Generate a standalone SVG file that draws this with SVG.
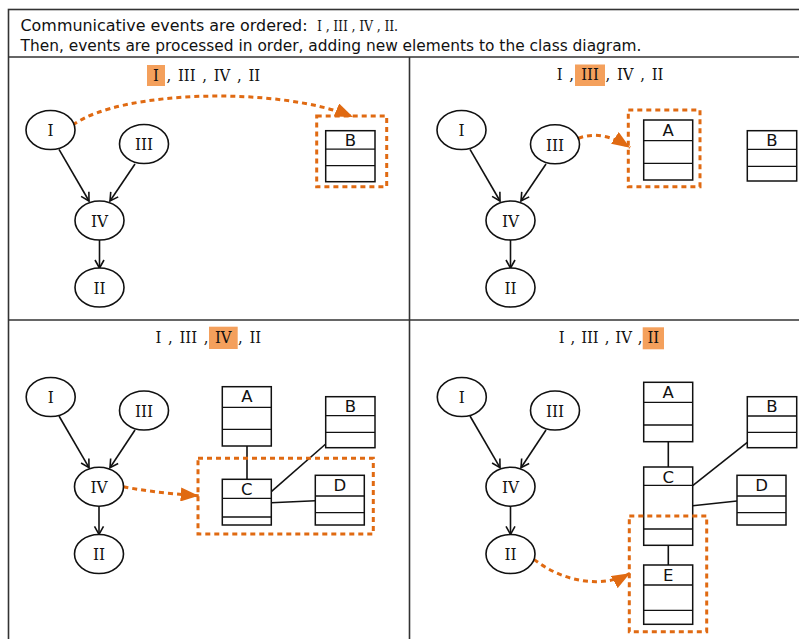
<svg xmlns="http://www.w3.org/2000/svg" width="799" height="639" viewBox="0 0 799 639">
<style>
.frame{fill:none;stroke:#333;stroke-width:1.6}
.ev{fill:#fff;stroke:#111;stroke-width:1.6}
.evt{font-family:"DejaVu Serif Condensed","DejaVu Serif",serif;font-size:17px;fill:#111;text-anchor:middle}
.cls{fill:#fff;stroke:#111;stroke-width:1.5}
.sep{stroke:#111;stroke-width:1.3}
.clt{font-family:"DejaVu Sans",sans-serif;font-size:16.5px;fill:#111;text-anchor:middle}
.edge{fill:none;stroke:#111;stroke-width:1.6;marker-end:url(#open)}
.assoc{fill:none;stroke:#111;stroke-width:1.6}
.flow{fill:none;stroke:#E06A12;stroke-width:3;stroke-dasharray:5 4;marker-end:url(#tri)}
.box{fill:none;stroke:#E06A12;stroke-width:3;stroke-dasharray:5 4}
.hl{fill:#F4A05C}
.title{font-family:"DejaVu Serif Condensed","DejaVu Serif",serif;font-size:16.5px;fill:#111;word-spacing:2px}
.head{font-family:"DejaVu Sans",sans-serif;font-size:15.5px;fill:#111}
.headn{font-family:"DejaVu Serif Condensed","DejaVu Serif",serif;font-size:14px;fill:#111}
.s{text-anchor:start}.m{text-anchor:middle;word-spacing:0}.e{text-anchor:end}
</style>
<defs>
<marker id="open" markerWidth="12" markerHeight="12" refX="9" refY="5" orient="auto" markerUnits="userSpaceOnUse" viewBox="0 0 12 10">
<path d="M1,0.5 L9,5 L1,9.5" fill="none" stroke="#111" stroke-width="1.6"/>
</marker>
<marker id="tri" markerWidth="20" markerHeight="14" refX="18" refY="7" orient="auto" markerUnits="userSpaceOnUse" viewBox="0 0 20 14">
<path d="M0,0 L18,7 L0,14 Z" fill="#E06A12"/>
</marker>
</defs>

<g id="frame">
<rect class="frame" x="8.5" y="9.5" width="800" height="640"/>
<line class="frame" x1="8" y1="57" x2="799" y2="57"/>
<line class="frame" x1="409.5" y1="57" x2="409.5" y2="639"/>
<line class="frame" x1="8" y1="320" x2="799" y2="320"/>
</g>

<g id="header">
<text class="head" x="20.5" y="30.5" textLength="287" lengthAdjust="spacingAndGlyphs">Communicative events are ordered:</text>
<text class="headn" x="317" y="30.5" textLength="81" lengthAdjust="spacing">I , III , IV , II.</text>
<text class="head" x="20.5" y="50.5" textLength="621" lengthAdjust="spacingAndGlyphs">Then, events are processed in order, adding new elements to the class diagram.</text>
</g>

<!-- Panel 1 -->
<g id="p1-title">
<rect class="hl" x="147" y="65" width="18" height="21"/>
<text class="title m" x="156" y="80.5">I</text>
<text class="title s" x="166.5" y="80.5">, III , IV , II</text>
</g>
<g id="p1-connectors">
<line class="edge" x1="59" y1="149.3" x2="89" y2="201"/>
<line class="edge" x1="135" y1="164" x2="110" y2="201"/>
<line class="edge" x1="99.5" y1="240" x2="99.5" y2="268"/>
<path class="flow" d="M73,125 C120,90 280,86 353,117"/>
</g>
<g id="p1-I"><ellipse class="ev" cx="50.5" cy="130" rx="24.5" ry="19.5"/><text class="evt" x="50.5" y="136">I</text></g>
<g id="p1-III"><ellipse class="ev" cx="144" cy="144" rx="24.5" ry="19.5"/><text class="evt" x="144" y="150.3">III</text></g>
<g id="p1-IV"><ellipse class="ev" cx="99.5" cy="220.5" rx="24.5" ry="19.5"/><text class="evt" x="99.5" y="226.8">IV</text></g>
<g id="p1-II"><ellipse class="ev" cx="99.5" cy="287.5" rx="24.5" ry="19.5"/><text class="evt" x="99.5" y="293.8">II</text></g>
<g id="p1-B">
<rect class="cls" x="325.7" y="130.7" width="49.3" height="51"/>
<line class="sep" x1="325.7" y1="149.2" x2="375" y2="149.2"/>
<line class="sep" x1="325.7" y1="165.7" x2="375" y2="165.7"/>
<text class="clt" x="350.3" y="145.5">B</text>
</g>
<rect id="p1-focus" class="box" x="316.7" y="116" width="70" height="70.7"/>

<!-- Panel 2 -->
<g id="p2-title">
<rect class="hl" x="575" y="64.5" width="30" height="21.5"/>
<text class="title e" x="574" y="79.5">I ,</text>
<text class="title m" x="590" y="79.5">III</text>
<text class="title s" x="605.5" y="79.5">, IV , II</text>
</g>
<g id="p2-connectors">
<line class="edge" x1="470" y1="149.3" x2="500" y2="201"/>
<line class="edge" x1="546" y1="164" x2="521" y2="201"/>
<line class="edge" x1="510.5" y1="240" x2="510.5" y2="268"/>
<path class="flow" d="M578.3,138.3 C595,132 612,136 630,147.7"/>
</g>
<g id="p2-I"><ellipse class="ev" cx="461.5" cy="130" rx="24.5" ry="19.5"/><text class="evt" x="461.5" y="136">I</text></g>
<g id="p2-III"><ellipse class="ev" cx="555" cy="144.3" rx="24.5" ry="19.5"/><text class="evt" x="555" y="150.6">III</text></g>
<g id="p2-IV"><ellipse class="ev" cx="510.5" cy="220.5" rx="24.5" ry="19.5"/><text class="evt" x="510.5" y="226.8">IV</text></g>
<g id="p2-II"><ellipse class="ev" cx="510.5" cy="287.5" rx="24.5" ry="19.5"/><text class="evt" x="510.5" y="293.8">II</text></g>
<g id="p2-A">
<rect class="cls" x="643.7" y="120" width="49" height="60"/>
<line class="sep" x1="643.7" y1="140.7" x2="692.7" y2="140.7"/>
<line class="sep" x1="643.7" y1="163.3" x2="692.7" y2="163.3"/>
<text class="clt" x="668.2" y="135.5">A</text>
</g>
<g id="p2-B">
<rect class="cls" x="747.3" y="130.7" width="49.4" height="50.3"/>
<line class="sep" x1="747.3" y1="149.3" x2="796.7" y2="149.3"/>
<line class="sep" x1="747.3" y1="166.3" x2="796.7" y2="166.3"/>
<text class="clt" x="772" y="145.5">B</text>
</g>
<rect id="p2-focus" class="box" x="628.3" y="110" width="71.7" height="76.7"/>

<!-- Panel 3 -->
<g id="p3-title">
<rect class="hl" x="209" y="326.7" width="28.7" height="22.3"/>
<text class="title e" x="208.5" y="343.3">I , III ,</text>
<text class="title m" x="223.3" y="343.3">IV</text>
<text class="title s" x="238" y="343.3">, II</text>
</g>
<g id="p3-connectors">
<line class="edge" x1="59" y1="416" x2="89" y2="467.7"/>
<line class="edge" x1="135" y1="430" x2="110" y2="467.7"/>
<line class="edge" x1="99" y1="505.7" x2="99" y2="534.3"/>
<line class="assoc" x1="247" y1="446" x2="247" y2="479.3"/>
<line class="assoc" x1="325.7" y1="444" x2="271.3" y2="491.7"/>
<line class="assoc" x1="271.3" y1="502.7" x2="315.3" y2="500.7"/>
<path class="flow" d="M123.3,486.7 C150,492 175,494 198.7,495.7"/>
</g>
<g id="p3-I"><ellipse class="ev" cx="50.7" cy="397" rx="24.5" ry="19.5"/><text class="evt" x="50.7" y="403.3">I</text></g>
<g id="p3-III"><ellipse class="ev" cx="144" cy="410.5" rx="24.5" ry="19.5"/><text class="evt" x="144" y="416.8">III</text></g>
<g id="p3-IV"><ellipse class="ev" cx="99" cy="486.7" rx="24.5" ry="19.5"/><text class="evt" x="99" y="493">IV</text></g>
<g id="p3-II"><ellipse class="ev" cx="99" cy="554" rx="24.5" ry="19.5"/><text class="evt" x="99" y="560.3">II</text></g>
<g id="p3-A">
<rect class="cls" x="222.3" y="386.7" width="49" height="59.3"/>
<line class="sep" x1="222.3" y1="407.3" x2="271.3" y2="407.3"/>
<line class="sep" x1="222.3" y1="429.3" x2="271.3" y2="429.3"/>
<text class="clt" x="246.8" y="402.3">A</text>
</g>
<g id="p3-B">
<rect class="cls" x="325.7" y="396.7" width="49.3" height="51"/>
<line class="sep" x1="325.7" y1="415.7" x2="375" y2="415.7"/>
<line class="sep" x1="325.7" y1="432.3" x2="375" y2="432.3"/>
<text class="clt" x="350.3" y="411.5">B</text>
</g>
<g id="p3-C">
<rect class="cls" x="222.3" y="479.3" width="49" height="45.7"/>
<line class="sep" x1="222.3" y1="498.3" x2="271.3" y2="498.3"/>
<line class="sep" x1="222.3" y1="517" x2="271.3" y2="517"/>
<text class="clt" x="246.8" y="494.5">C</text>
</g>
<g id="p3-D">
<rect class="cls" x="315.3" y="475.3" width="49" height="49.7"/>
<line class="sep" x1="315.3" y1="496" x2="364.3" y2="496"/>
<line class="sep" x1="315.3" y1="512.7" x2="364.3" y2="512.7"/>
<text class="clt" x="339.8" y="491">D</text>
</g>
<rect id="p3-focus" class="box" x="198" y="458.3" width="175.3" height="75.7"/>

<!-- Panel 4 -->
<g id="p4-title">
<rect class="hl" x="642.7" y="327.3" width="21.3" height="22"/>
<text class="title e" x="642.5" y="343" style="word-spacing:1.2px">I , III , IV ,</text>
<text class="title m" x="653.3" y="343">II</text>
</g>
<g id="p4-connectors">
<line class="edge" x1="470" y1="416" x2="500" y2="467.7"/>
<line class="edge" x1="546" y1="430" x2="521" y2="467.7"/>
<line class="edge" x1="510.5" y1="505.7" x2="510.5" y2="534.3"/>
<line class="assoc" x1="668.3" y1="441.7" x2="668.3" y2="467"/>
<line class="assoc" x1="668.3" y1="545.3" x2="668.3" y2="565"/>
<line class="assoc" x1="747.3" y1="442.3" x2="692.7" y2="485.7"/>
<line class="assoc" x1="692.7" y1="505.7" x2="737" y2="501"/>
<path class="flow" d="M534,559.3 C560,580 600,590 630,573.3"/>
</g>
<g id="p4-I"><ellipse class="ev" cx="461.8" cy="397" rx="24.5" ry="19.5"/><text class="evt" x="461.8" y="403.3">I</text></g>
<g id="p4-III"><ellipse class="ev" cx="555" cy="410.5" rx="24.5" ry="19.5"/><text class="evt" x="555" y="416.8">III</text></g>
<g id="p4-IV"><ellipse class="ev" cx="510.5" cy="486.7" rx="24.5" ry="19.5"/><text class="evt" x="510.5" y="493">IV</text></g>
<g id="p4-II"><ellipse class="ev" cx="510.5" cy="554" rx="24.5" ry="19.5"/><text class="evt" x="510.5" y="560.3">II</text></g>
<g id="p4-A">
<rect class="cls" x="643.7" y="382.3" width="49" height="59.4"/>
<line class="sep" x1="643.7" y1="402.3" x2="692.7" y2="402.3"/>
<line class="sep" x1="643.7" y1="425" x2="692.7" y2="425"/>
<text class="clt" x="668.2" y="398">A</text>
</g>
<g id="p4-B">
<rect class="cls" x="747.3" y="396.7" width="49.4" height="51"/>
<line class="sep" x1="747.3" y1="416" x2="796.7" y2="416"/>
<line class="sep" x1="747.3" y1="432.3" x2="796.7" y2="432.3"/>
<text class="clt" x="772" y="411.5">B</text>
</g>
<g id="p4-C">
<rect class="cls" x="643.7" y="467" width="49" height="78.3"/>
<line class="sep" x1="643.7" y1="485.3" x2="692.7" y2="485.3"/>
<line class="sep" x1="643.7" y1="529" x2="692.7" y2="529"/>
<text class="clt" x="668.2" y="482.5">C</text>
</g>
<g id="p4-D">
<rect class="cls" x="737" y="475.3" width="49" height="49.7"/>
<line class="sep" x1="737" y1="496" x2="786" y2="496"/>
<line class="sep" x1="737" y1="512.7" x2="786" y2="512.7"/>
<text class="clt" x="761.5" y="491">D</text>
</g>
<g id="p4-E">
<rect class="cls" x="643.7" y="565" width="49" height="59.3"/>
<line class="sep" x1="643.7" y1="585" x2="692.7" y2="585"/>
<line class="sep" x1="643.7" y1="610.3" x2="692.7" y2="610.3"/>
<text class="clt" x="668.2" y="581">E</text>
</g>
<rect id="p4-focus" class="box" x="629.3" y="516" width="77.4" height="115.7"/>
</svg>
